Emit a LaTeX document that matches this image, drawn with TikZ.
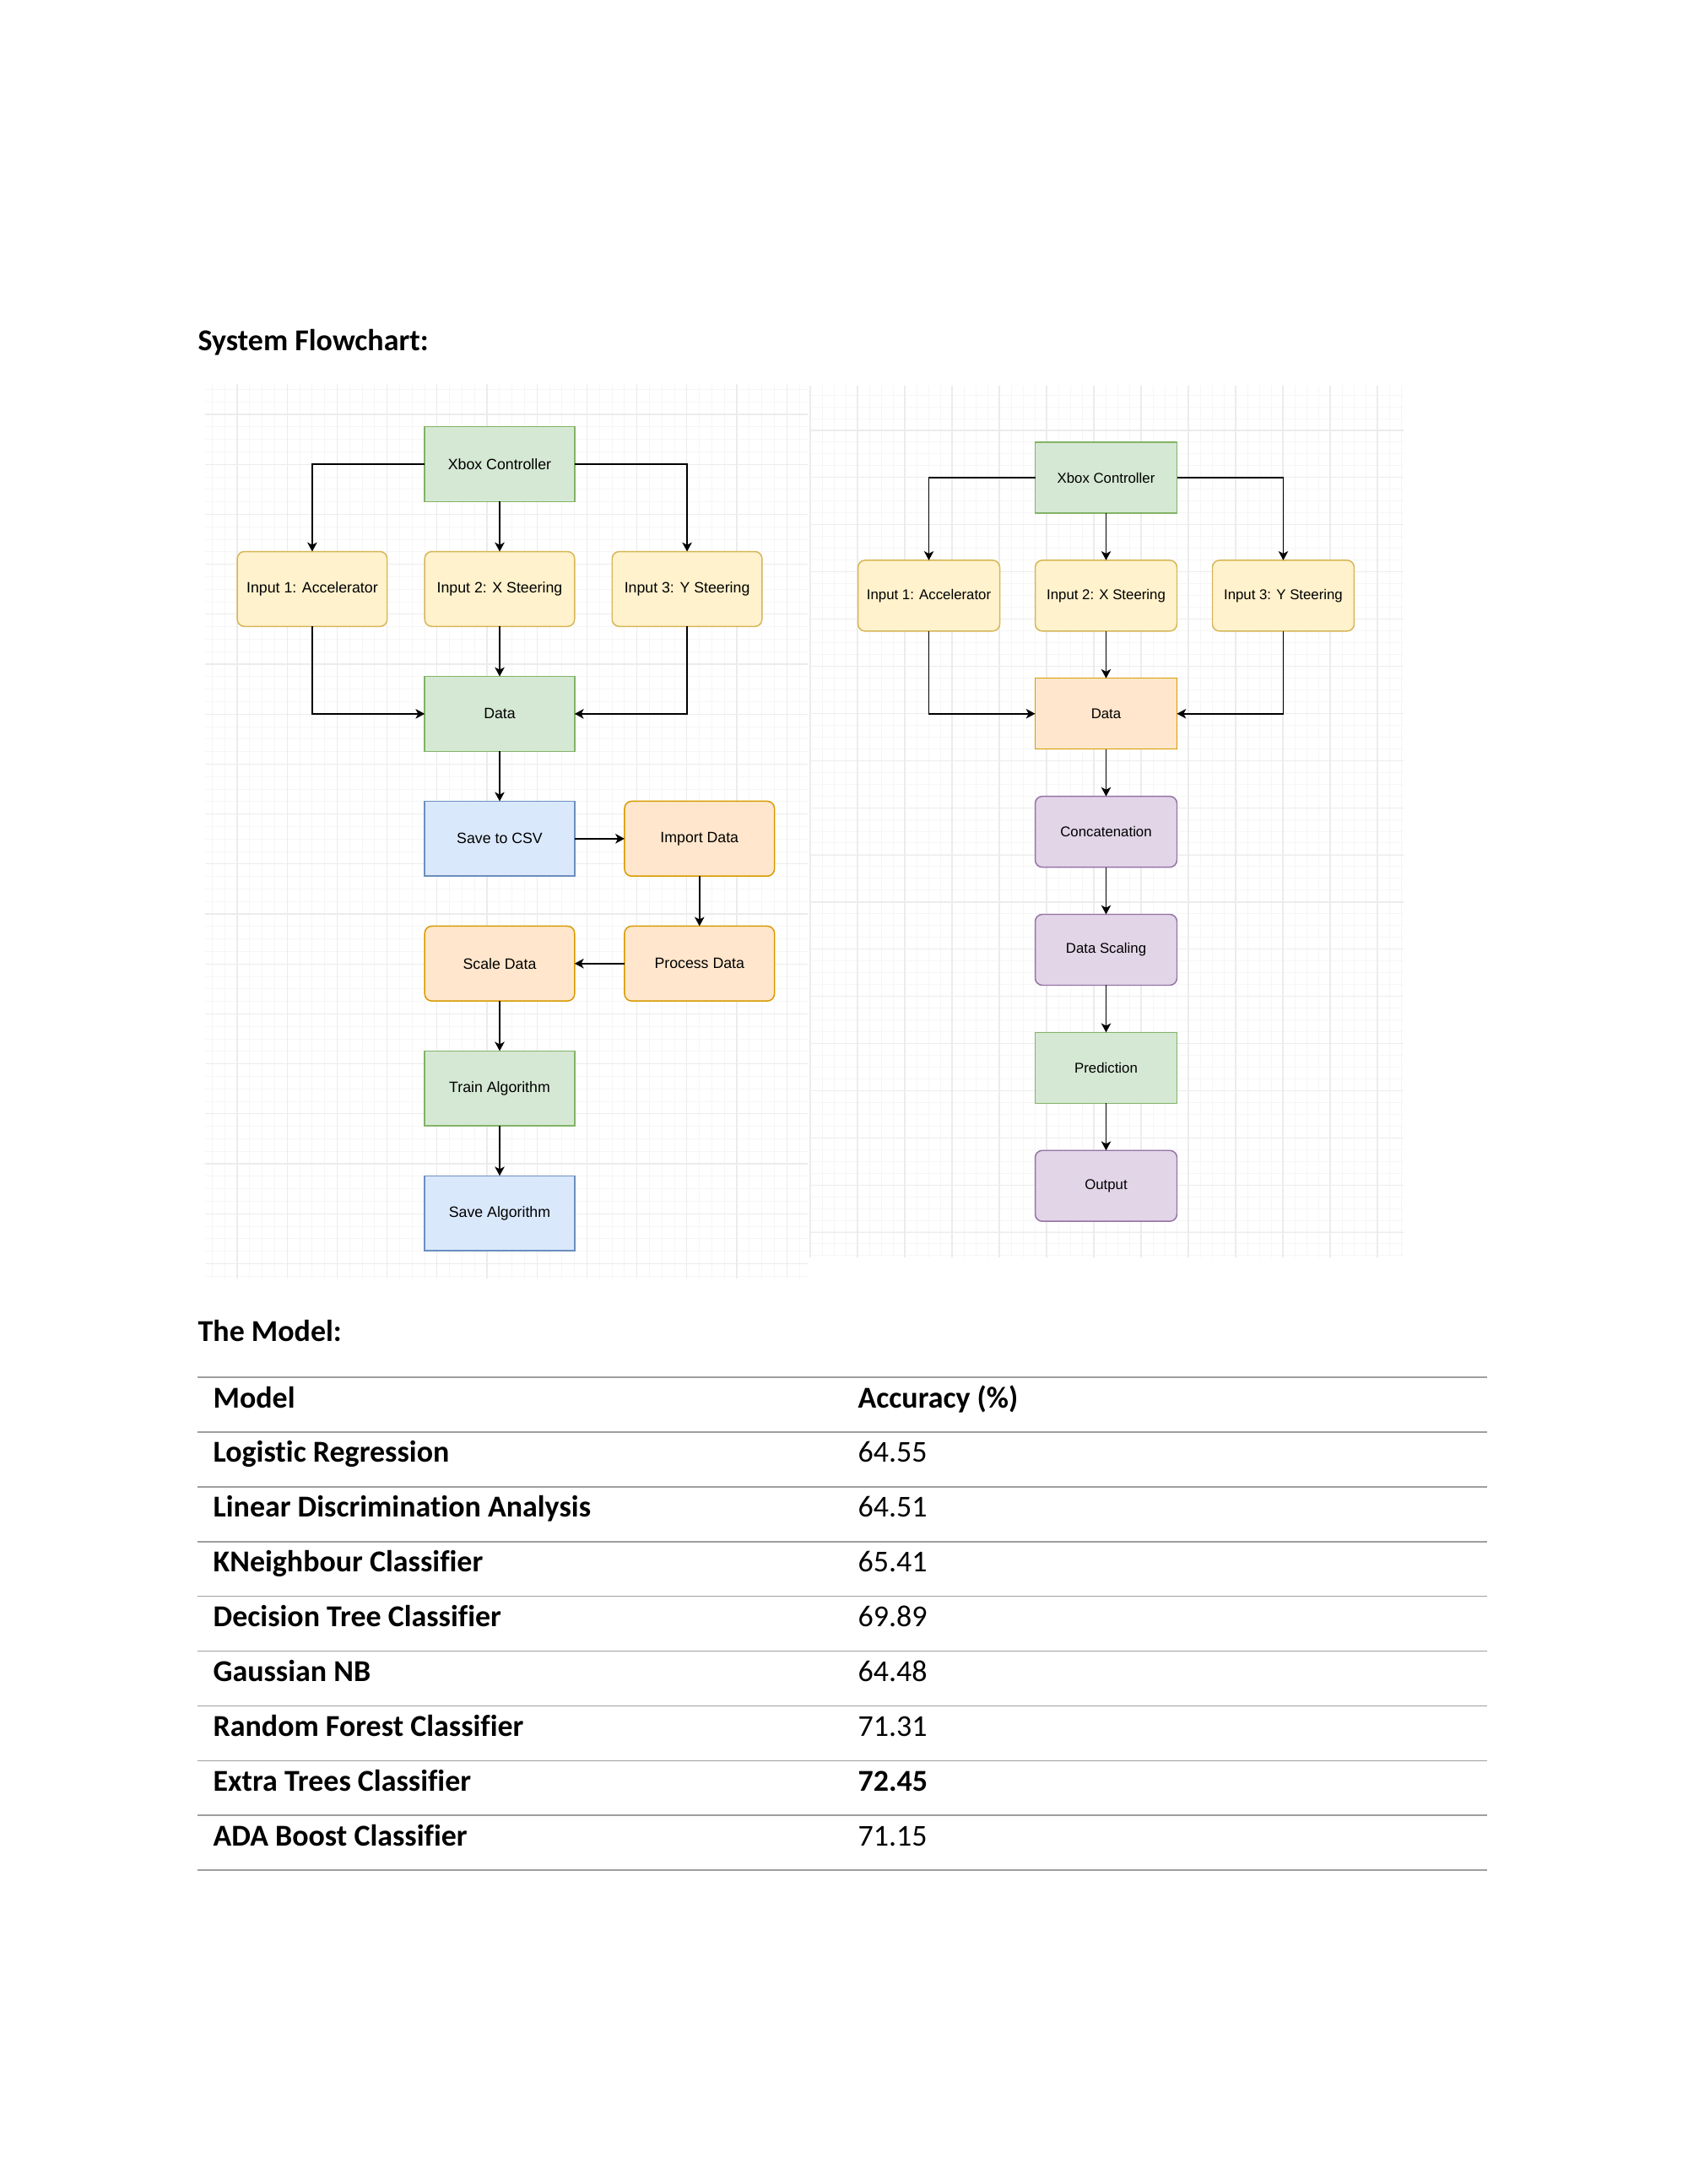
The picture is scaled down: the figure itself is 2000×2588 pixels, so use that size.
\documentclass[tikz,border=0pt]{standalone}
\usepackage{fontspec}
\setmainfont{Carlito}[Ligatures=NoCommon]
\newfontfamily\flowfont{Liberation Sans}
\usepackage{xcolor}
\usetikzlibrary{positioning,arrows.meta}

\definecolor{greenfill}{HTML}{D5E8D4}  \definecolor{greenline}{HTML}{82B366}
\definecolor{yellowfill}{HTML}{FFF2CC} \definecolor{yellowline}{HTML}{D6B656}
\definecolor{bluefill}{HTML}{DAE8FC}   \definecolor{blueline}{HTML}{6C8EBF}
\definecolor{orangefill}{HTML}{FFE6CC} \definecolor{orangeline}{HTML}{D79B00}
\definecolor{purplefill}{HTML}{E1D5E7} \definecolor{purpleline}{HTML}{9673A6}

\begin{document}
\begin{tikzpicture}[
  x=0.306pt, y=-0.306pt,
  gridminor/.style={draw=gray!7, line width=0.3pt},
  gridmajor/.style={draw=gray!15, line width=0.35pt},
  lbox/.style={draw, line width=0.45pt, minimum width=54.35pt, minimum height=27.17pt,
               inner sep=0pt, outer sep=0pt, font=\flowfont\fontsize{5.43}{6.5}\selectfont},
  rbox/.style={draw, line width=0.45pt, minimum width=51.4pt, minimum height=25.7pt,
               inner sep=0pt, outer sep=0pt, font=\flowfont\fontsize{5.14}{6.2}\selectfont},
  rnd/.style={rounded corners=2.6pt},
  greenbox/.style={fill=greenfill, draw=greenline},
  yellowbox/.style={fill=yellowfill, draw=yellowline},
  bluebox/.style={fill=bluefill, draw=blueline},
  orangebox/.style={fill=orangefill, draw=orangeline},
  purplebox/.style={fill=purplefill, draw=purpleline},
  arr/.style={-{Stealth[length=3.3pt, width=3.5pt, inset=0.9pt]}, line width=0.55pt},
  heading/.style={anchor=base west, inner sep=0pt, font=\fontsize{11}{13}\selectfont\bfseries},
  cell/.style={anchor=base west, inner sep=0pt, font=\fontsize{11}{13}\selectfont},
  rule/.style={draw=gray!75, line width=0.5pt}]
  \useasboundingbox (0,0) rectangle (2000,2588);

  % grid paper behind the two flowcharts
  \foreach \k in {-2,...,45} \draw[gridminor] ({281+14.8*\k},455) -- (281+14.8*\k,1515);
  \foreach \k in {-2,...,69} \draw[gridminor] (243,{491+14.8*\k}) -- (957,491+14.8*\k);
  \foreach \k in {0,...,11} \draw[gridmajor] ({281+59.2*\k},455) -- (281+59.2*\k,1515);
  \foreach \k in {0,...,17} \draw[gridmajor] (243,{491+59.2*\k}) -- (957,491+59.2*\k);
  \foreach \k in {0,...,50} \draw[gridminor] ({960+14*\k},457) -- (960+14*\k,1490);
  \foreach \k in {-3,...,70} \draw[gridminor] (960,{510+13.97*\k}) -- (1663,510+13.97*\k);
  \foreach \k in {0,...,12} \draw[gridmajor] ({960+56*\k},457) -- (960+56*\k,1490);
  \foreach \k in {0,...,17} \draw[gridmajor] (960,{510+55.9*\k}) -- (1663,510+55.9*\k);

  \node[heading] (flowtitle) at (234,415) {System Flowchart:};

  % training flowchart
  \node[lbox, greenbox] (lxbox) at (592,550) {Xbox Controller};
  \node[lbox, yellowbox, rnd, below=18.1pt of lxbox] (lin2) {Input 2: X Steering};
  \node[lbox, yellowbox, rnd, left=13.6pt of lin2] (lin1) {Input 1: Accelerator};
  \node[lbox, yellowbox, rnd, right=13.6pt of lin2] (lin3) {Input 3: Y Steering};
  \node[lbox, greenbox, below=18.1pt of lin2] (ldata) {Data};
  \node[lbox, bluebox, below=18.1pt of ldata] (lcsv) {Save to CSV};
  \node[lbox, orangebox, rnd, right=18.1pt of lcsv] (limport) {Import Data};
  \node[lbox, orangebox, rnd, below=18.1pt of limport] (lprocess) {Process Data};
  \node[lbox, orangebox, rnd, below=18.1pt of lcsv] (lscale) {Scale Data};
  \node[lbox, greenbox, below=18.1pt of lscale] (ltrain) {Train Algorithm};
  \node[lbox, bluebox, below=18.1pt of ltrain] (lsave) {Save Algorithm};
  \draw[arr] (lxbox) -| (lin1);
  \draw[arr] (lxbox) -| (lin3);
  \draw[arr] (lin1) |- (ldata);
  \draw[arr] (lin3) |- (ldata);
  \foreach \a/\b in {lxbox/lin2, lin2/ldata, ldata/lcsv, lcsv/limport, limport/lprocess,
                     lprocess/lscale, lscale/ltrain, ltrain/lsave}
    \draw[arr] (\a) -- (\b);

  % prediction flowchart
  \node[rbox, greenbox] (rxbox) at (1310.5,566) {Xbox Controller};
  \node[rbox, yellowbox, rnd, below=17.1pt of rxbox] (rin2) {Input 2: X Steering};
  \node[rbox, yellowbox, rnd, left=12.85pt of rin2] (rin1) {Input 1: Accelerator};
  \node[rbox, yellowbox, rnd, right=12.85pt of rin2] (rin3) {Input 3: Y Steering};
  \node[rbox, orangebox, below=17.1pt of rin2] (rdata) {Data};
  \node[rbox, purplebox, rnd, below=17.1pt of rdata] (rconcat) {Concatenation};
  \node[rbox, purplebox, rnd, below=17.1pt of rconcat] (rscaling) {Data Scaling};
  \node[rbox, greenbox, below=17.1pt of rscaling] (rpredict) {Prediction};
  \node[rbox, purplebox, rnd, below=17.1pt of rpredict] (routput) {Output};
  \draw[arr] (rxbox) -| (rin1);
  \draw[arr] (rxbox) -| (rin3);
  \draw[arr] (rin1) |- (rdata);
  \draw[arr] (rin3) |- (rdata);
  \foreach \a/\b in {rxbox/rin2, rin2/rdata, rdata/rconcat, rconcat/rscaling,
                     rscaling/rpredict, rpredict/routput}
    \draw[arr] (\a) -- (\b);

  % results table
  \node[heading] (modeltitle) at (234,1589) {The Model:};
  \foreach \k in {0,...,9} \draw[rule] (234,{1632+64.9*\k}) -- (1762,1632+64.9*\k);
  \node[heading] (mhead) at (252,1668) {Model};
  \node[heading] (ahead) at (1016,1668) {Accuracy (\%)};
  \foreach \name/\acc [count=\i] in {Logistic Regression/64.55,
      Linear Discrimination Analysis/64.51, KNeighbour Classifier/65.41,
      Decision Tree Classifier/69.89, Gaussian NB/64.48, Random Forest Classifier/71.31,
      Extra Trees Classifier/\textbf{72.45}, ADA Boost Classifier/71.15}
  {
    \node[heading] (m\i) at (252,{1668+64.9*\i}) {\name};
    \node[cell] (a\i) at (1016,{1668+64.9*\i}) {\acc};
  }
\end{tikzpicture}
\end{document}
